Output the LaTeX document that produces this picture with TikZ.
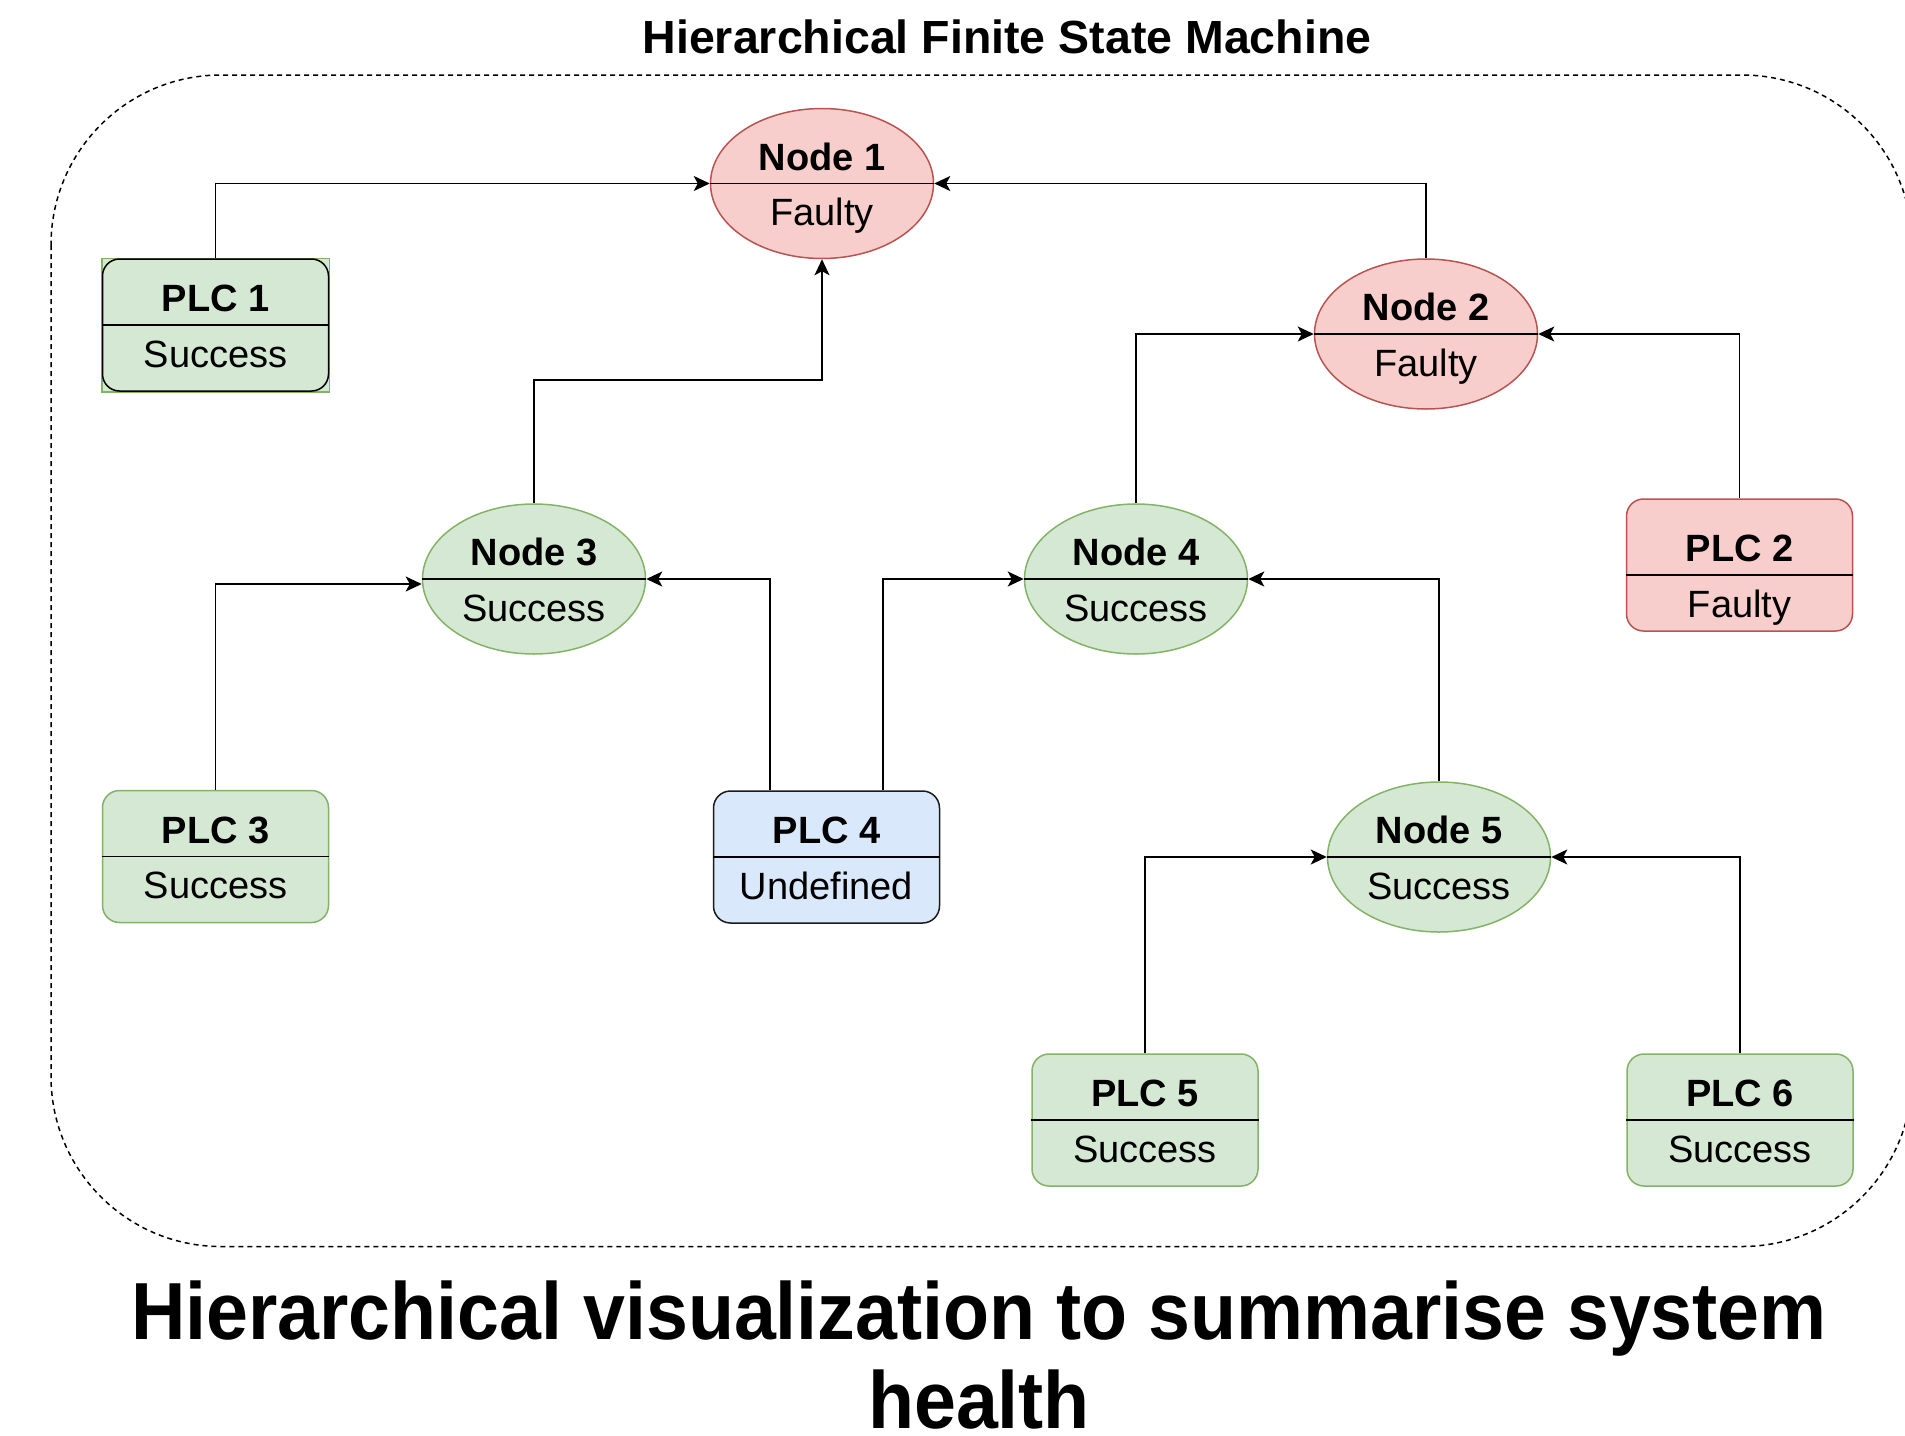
\documentclass[tikz,border=0pt]{standalone}
\usepackage{fontspec}
\usepackage{graphicx}
\setmainfont{Liberation Sans}
\usetikzlibrary{shapes.geometric,arrows.meta,backgrounds}
\definecolor{okfill}{HTML}{D5E8D4}
\definecolor{okline}{HTML}{82B366}
\definecolor{badfill}{HTML}{F8CECC}
\definecolor{badline}{HTML}{B85450}
\definecolor{unkfill}{HTML}{DAE8FC}
\definecolor{unkline}{HTML}{1A1A1A}
\begin{document}
\begin{tikzpicture}[x=1pt,y=-1pt,
  ell/.style={ellipse, minimum width=223pt, minimum height=150pt, inner sep=0pt, line width=1.5pt},
  plcbox/.style={rectangle, rounded corners=17pt, minimum width=226pt, minimum height=132pt, inner sep=0pt, line width=1.5pt},
  okst/.style={fill=okfill, draw=okline},
  badst/.style={fill=badfill, draw=badline},
  unkst/.style={fill=unkfill, draw=unkline},
  divline/.style={line width=1.5pt, draw=black},
  toplbl/.style={anchor=base, inner sep=0pt, font=\bfseries\fontsize{38}{44}\selectfont},
  botlbl/.style={anchor=base, inner sep=0pt, font=\fontsize{38}{44}\selectfont},
  conn/.style={line width=1.6pt, -{Stealth[length=16pt,width=15pt,inset=4pt]}},
  frame/.style={line width=1.5pt, dash pattern=on 5pt off 4pt, rounded corners=170pt}
]
\useasboundingbox (0,0) rectangle (1905,1435);
\clip (0,0) rectangle (1905,1435);

% title and caption
\node[anchor=base, inner sep=0pt, font=\bfseries\fontsize{46.5}{50}\selectfont] (title) at (1007,53.3) {Hierarchical Finite State Machine};
\node[anchor=base, inner sep=0pt, font=\bfseries\fontsize{81}{90}\selectfont] (cap1) at (979,1339) {\scalebox{0.93}[1]{Hierarchical visualization to summarise system}};
\node[anchor=base, inner sep=0pt, font=\bfseries\fontsize{81}{90}\selectfont] (cap2) at (979,1428) {\scalebox{0.93}[1]{health}};

% container
\draw[frame] (51,75) rectangle (1912,1246.5);

% states
\node[ell, badst] (N1) at (822,183.5) {};
\node[ell, badst] (N2) at (1426,334) {};
\node[ell, okst] (N3) at (534,579) {};
\node[ell, okst] (N4) at (1136,579) {};
\node[ell, okst] (N5) at (1439,857) {};
\node[plcbox, okst, draw=black] (P1) at (215.5,325) {};
\begin{pgfonlayer}{background}
\draw[okline, fill=okfill, line width=1.5pt] (P1.south west) rectangle (P1.north east);
\end{pgfonlayer}
\node[plcbox, badst] (P2) at (1739.5,565) {};
\node[plcbox, okst] (P3) at (215.5,856.5) {};
\node[plcbox, unkst] (P4) at (826.5,857) {};
\node[plcbox, okst] (P5) at (1145,1120) {};
\node[plcbox, okst] (P6) at (1740,1120) {};

% dividers
\foreach \n in {N1,N2,N3,N4,N5,P1,P3,P4,P5,P6}
  \draw[divline] (\n.west) -- (\n.east);
\draw[divline] ([yshift=-10pt]P2.west) -- ([yshift=-10pt]P2.east);

% labels
\node[toplbl] (N1a) at ([yshift=13.5pt]N1.center) {Node 1};
\node[botlbl] (N1b) at ([yshift=-42pt]N1.center) {Faulty};
\node[toplbl] (N2a) at ([yshift=13.5pt]N2.center) {Node 2};
\node[botlbl] (N2b) at ([yshift=-42pt]N2.center) {Faulty};
\node[toplbl] (N3a) at ([yshift=13.5pt]N3.center) {Node 3};
\node[botlbl] (N3b) at ([yshift=-42pt]N3.center) {Success};
\node[toplbl] (N4a) at ([yshift=13.5pt]N4.center) {Node 4};
\node[botlbl] (N4b) at ([yshift=-42pt]N4.center) {Success};
\node[toplbl] (N5a) at ([yshift=13.5pt]N5.center) {Node 5};
\node[botlbl] (N5b) at ([yshift=-42pt]N5.center) {Success};
\node[toplbl] (P1a) at ([yshift=13.5pt]P1.center) {PLC 1};
\node[botlbl] (P1b) at ([yshift=-42pt]P1.center) {Success};
\node[toplbl] (P2a) at ([yshift=3.5pt]P2.center) {PLC 2};
\node[botlbl] (P2b) at ([yshift=-52pt]P2.center) {Faulty};
\node[toplbl] (P3a) at ([yshift=13.5pt]P3.center) {PLC 3};
\node[botlbl] (P3b) at ([yshift=-42pt]P3.center) {Success};
\node[toplbl] (P4a) at ([yshift=13.5pt]P4.center) {PLC 4};
\node[botlbl] (P4b) at ([yshift=-42pt]P4.center) {Undefined};
\node[toplbl] (P5a) at ([yshift=13.5pt]P5.center) {PLC 5};
\node[botlbl] (P5b) at ([yshift=-42pt]P5.center) {Success};
\node[toplbl] (P6a) at ([yshift=13.5pt]P6.center) {PLC 6};
\node[botlbl] (P6b) at ([yshift=-42pt]P6.center) {Success};

% connectors
\draw[conn] (P1.north) |- (N1.west);
\draw[conn] (N2.north) |- (N1.east);
\draw[conn] (N3.north) -- ([yshift=123pt]N3.north) -| (N1.south);
\draw[conn] (N4.north) |- (N2.west);
\draw[conn] (P2.north) |- (N2.east);
\draw[conn] (P3.north) |- ([yshift=-5pt]N3.west);
\draw[conn] ([xshift=-56.5pt]P4.north) |- (N3.east);
\draw[conn] ([xshift=56.5pt]P4.north) |- (N4.west);
\draw[conn] (N5.north) |- (N4.east);
\draw[conn] (P5.north) |- (N5.west);
\draw[conn] (P6.north) |- (N5.east);
\end{tikzpicture}
\end{document}
